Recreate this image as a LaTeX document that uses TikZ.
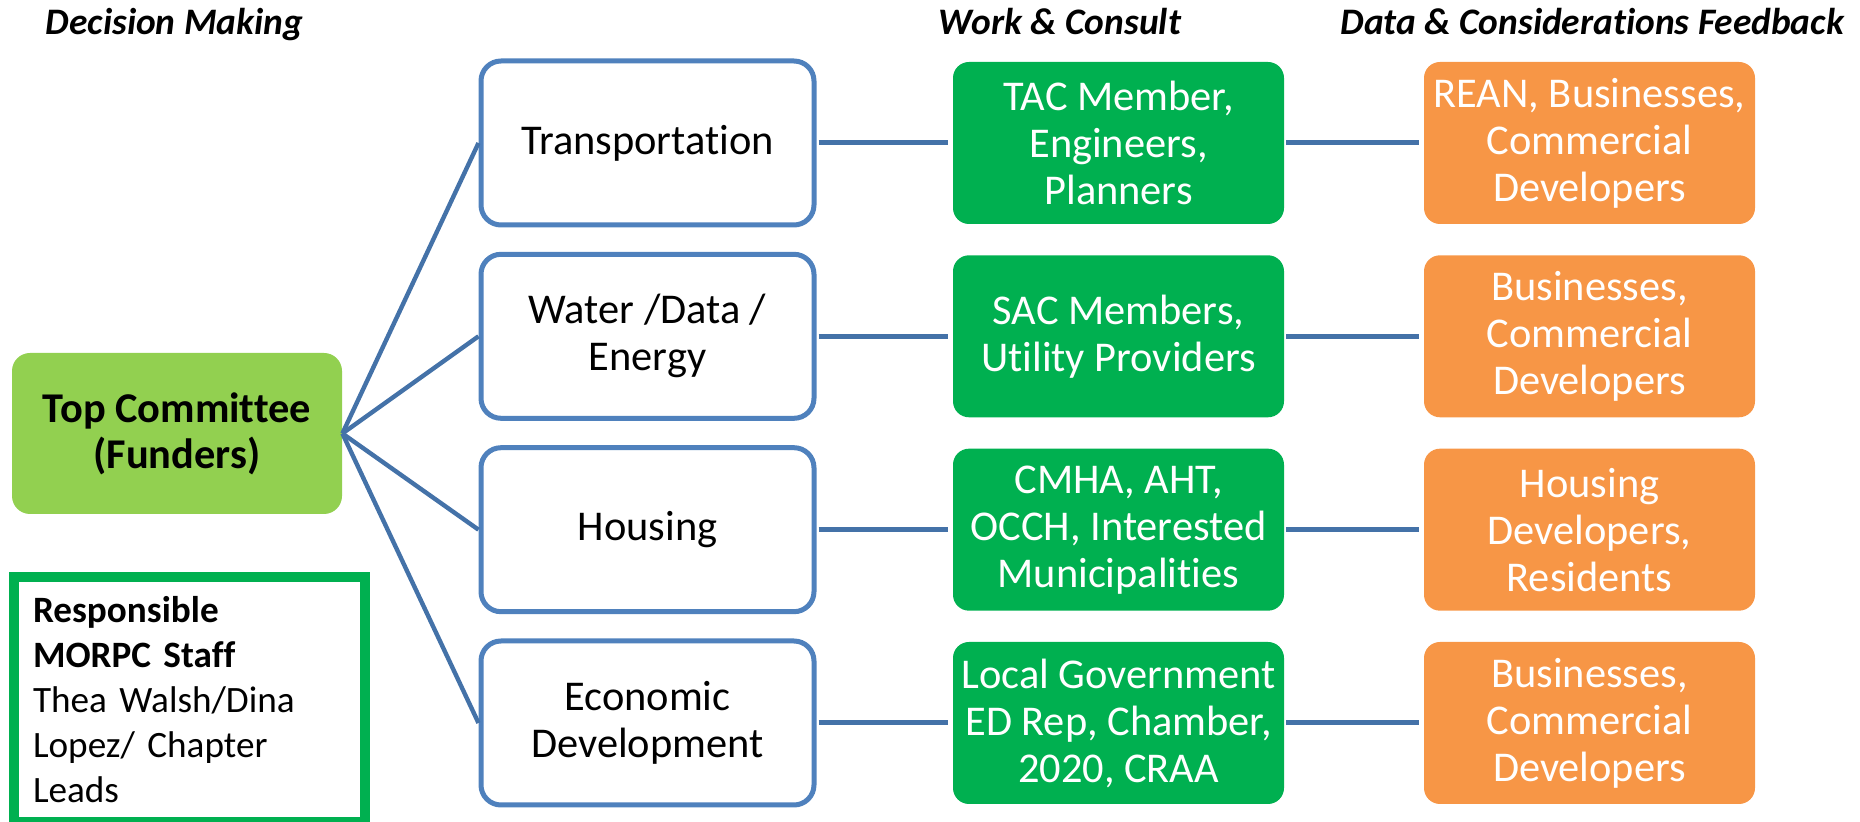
\documentclass[tikz,border=0pt]{standalone}
\usepackage{fontspec}
\setmainfont{Carlito}[Ligatures=NoCommon]
\usepackage{tikz}
\usetikzlibrary{arrows,calc,positioning}
\tikzset{>=latex}
\definecolor{boxblue}{RGB}{79,129,189}
\definecolor{linkblue}{RGB}{68,114,168}
\definecolor{leafgreen}{RGB}{146,208,80}
\definecolor{workgreen}{RGB}{0,176,80}
\definecolor{dataorange}{RGB}{247,150,70}
\tikzset{
  heading/.style={anchor=base, font=\fontsize{18.7}{22}\selectfont\bfseries\itshape},
  topic/.style={draw=boxblue, line width=2.5pt, fill=white, rounded corners=10pt, minimum width=166.5pt, minimum height=82pt, align=center, font=\fontsize{21.2}{23.5}\selectfont},
  consult/.style={fill=workgreen, text=white, rounded corners=8pt, minimum width=165.5pt, minimum height=81pt, align=center, font=\fontsize{21.2}{23.5}\selectfont},
  feedback/.style={consult, fill=dataorange},
  spoke/.style={draw=linkblue, line width=2.2pt},
  rung/.style={draw=linkblue, line width=2.5pt, shorten >=2.5pt, shorten <=1pt}
}

\begin{document}
\begin{tikzpicture}[x=0.5pt,y=-0.5pt]
    \useasboundingbox (0,0) rectangle (1860,822);
    % column headings
    \node[heading] (hdec) at (174.5,35) {Decision Making};
    \node[heading] (hwork) at (1060,35) {Work \& Consult};
    \node[heading, anchor=base east] (hdata) at (1851,35) {Data \& Considerations Feedback};

    % decision making
    \node[fill=leafgreen, rounded corners=9pt, minimum width=165pt, minimum height=80.5pt, align=center, font=\fontsize{21.2}{23}\selectfont\bfseries] (top) at (177,433.5) {Top Committee\\(Funders)};
    \node[draw=workgreen, line width=5pt, fill=white, minimum width=175.5pt, minimum height=122.5pt, text width=156.5pt, inner xsep=9.5pt, align=left, font=\fontsize{18.6}{22.4}\selectfont] (staff) at (189.5,699.5)
      {\textbf{Responsible}\\\textbf{MORPC Staff}\\Thea Walsh/Dina\\Lopez/ Chapter\\Leads};

    % topics
    \node[topic] (trans) at (647.5,143) {Transportation};
    \node[topic] (water) at (647.5,336.3) {Water /Data /\\Energy};
    \node[topic] (house) at (647.5,529.7) {Housing};
    \node[topic] (econ) at (647.5,723) {Economic\\Development};

    % work and consult
    \node[consult] (tac) at (1118.5,143) {TAC Member,\\Engineers,\\Planners};
    \node[consult] (sac) at (1118.5,336.3) {SAC Members,\\Utility Providers};
    \node[consult] (cmha) at (1118.5,529.7) {CMHA, AHT,\\OCCH, Interested\\Municipalities};
    \node[consult] (local) at (1118.5,723) {Local Government\\ED Rep, Chamber,\\2020, CRAA};

    % feedback
    \node[feedback] (rean) at (1589.5,143) {REAN, Businesses,\\Commercial\\Developers};
    \node[feedback] (bus) at (1589.5,336.3) {Businesses,\\Commercial\\Developers};
    \node[feedback] (resid) at (1589.5,529.7) {Housing\\Developers,\\Residents};
    \node[feedback] (bus2) at (1589.5,723) {Businesses,\\Commercial\\Developers};

    % spokes from the committee
    \draw[spoke] (top.east) -- (trans.west);
    \draw[spoke] (top.east) -- (water.west);
    \draw[spoke] (top.east) -- (house.west);
    \draw[spoke] (top.east) -- (econ.west);

    \draw[rung] (trans) -- (tac);
    \draw[rung] (water) -- (sac);
    \draw[rung] (house) -- (cmha);
    \draw[rung] (econ) -- (local);
    \draw[rung] (tac) -- (rean);
    \draw[rung] (sac) -- (bus);
    \draw[rung] (cmha) -- (resid);
    \draw[rung] (local) -- (bus2);
\end{tikzpicture}
\end{document}
